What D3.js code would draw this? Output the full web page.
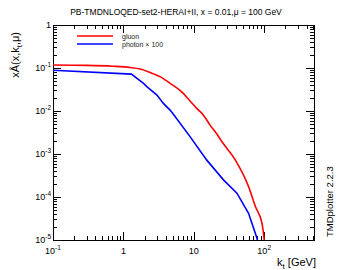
<!DOCTYPE html>
<html>
<head>
<meta charset="utf-8">
<script src="https://cdn.jsdelivr.net/npm/d3@7.9.0/dist/d3.min.js"></script>
<style>
  body { margin: 0; background: #fff; }
  svg { display: block; font-family: "Liberation Sans", Arial, sans-serif; }
</style>
</head>
<body>
<div id="chart"></div>
<script>
const gluonKt = [0.1, 0.3, 0.7, 1.24, 1.73, 2.67, 3.3, 4.6, 7.1, 8, 11, 13.8, 17, 21, 25, 39, 60, 75, 93, 100, 102];
const gluonXA = [0.117, 0.115, 0.11, 0.103, 0.095, 0.073, 0.063, 0.044, 0.0257, 0.0205, 0.0115, 0.0079, 0.0047, 0.003, 0.00195, 0.00072, 0.000174, 0.00006, 0.0000245, 0.00001, 0.000007];
const photonKt = [0.1, 1.3, 1.93, 2.15, 3, 3.7, 4.6, 5.1, 8.9, 15.3, 26.4, 41, 60, 79, 85];
const photonXA = [0.089, 0.072, 0.044, 0.037, 0.0235, 0.015, 0.0105, 0.0085, 0.0025, 0.00072, 0.00025, 0.000123, 0.0000417, 0.000011, 0.000006];
const xDecades = [0.1, 1, 10, 100];
const xTickLabels = [["10", "-1"], ["1", ""], ["10", ""], ["10", "2"]];
const yDecades = [1e-5, 1e-4, 1e-3, 1e-2, 1e-1, 1];
const yTickLabels = [["10", "-5"], ["10", "-4"], ["10", "-3"], ["10", "-2"], ["10", "-1"], ["1", ""]];

const width = 349, height = 270;
const plot = { left: 53, right: 314, top: 25, bottom: 240 };

const svg = d3.select("#chart").append("svg")
  .attr("width", width).attr("height", height);

const x = d3.scaleLog().domain([0.1, 510]).range([plot.left, plot.right]);
const y = d3.scaleLog().domain([1e-5, 1]).range([plot.bottom, plot.top]);

svg.append("defs").append("clipPath").attr("id", "clip")
  .append("rect")
  .attr("x", plot.left).attr("y", plot.top)
  .attr("width", plot.right - plot.left).attr("height", plot.bottom - plot.top);

// minor ticks 2..9 per decade
function minorTicks(scale) {
  const [a, b] = scale.domain();
  const out = [];
  for (let p = Math.floor(Math.log10(a)); p <= Math.ceil(Math.log10(b)); p++) {
    for (let m = 1; m < 10; m++) {
      const v = m * Math.pow(10, p);
      if (v >= a * 0.999 && v <= b * 1.001) out.push({ v, major: m === 1 });
    }
  }
  return out;
}

const ticks = svg.append("g").attr("stroke", "#000").attr("stroke-width", 1);
for (const t of minorTicks(x)) {
  const len = t.major ? 8 : 4;
  const px = Math.round(x(t.v)) + 0.5;
  ticks.append("line").attr("x1", px).attr("x2", px)
    .attr("y1", plot.bottom).attr("y2", plot.bottom - len);
  ticks.append("line").attr("x1", px).attr("x2", px)
    .attr("y1", plot.top).attr("y2", plot.top + len);
}
for (const t of minorTicks(y)) {
  const len = t.major ? 8 : 4;
  const py = Math.round(y(t.v)) + 0.5;
  ticks.append("line").attr("y1", py).attr("y2", py)
    .attr("x1", plot.left).attr("x2", plot.left + len);
  ticks.append("line").attr("y1", py).attr("y2", py)
    .attr("x1", plot.right).attr("x2", plot.right - len);
}

svg.append("rect")
  .attr("x", plot.left + 0.5).attr("y", plot.top + 0.5)
  .attr("width", plot.right - plot.left).attr("height", plot.bottom - plot.top)
  .attr("fill", "none").attr("stroke", "#000").attr("stroke-width", 1);

// tick labels
function addPow(sel, [base, exp]) {
  sel.append("tspan").text(base);
  if (exp) sel.append("tspan").attr("dy", -4).attr("font-size", 6.5).text(exp);
}
xDecades.forEach((v, i) => {
  const t = svg.append("text")
    .attr("x", x(v)).attr("y", 254)
    .attr("font-size", 9).attr("text-anchor", "middle");
  addPow(t, xTickLabels[i]);
});
yDecades.forEach((v, i) => {
  const t = svg.append("text")
    .attr("x", plot.left - 2).attr("y", y(v) + 3)
    .attr("font-size", 9).attr("text-anchor", "end");
  addPow(t, yTickLabels[i]);
});

// curves
const curves = svg.append("g").attr("clip-path", "url(#clip)").attr("fill", "none").attr("stroke-width", 1.6);
curves.append("path").datum(gluonKt.map((k, i) => [k, gluonXA[i]]))
  .attr("stroke", "#ff0000")
  .attr("d", d3.line().x(d => x(d[0])).y(d => y(d[1])).curve(d3.curveMonotoneX));
curves.append("path").datum(photonKt.map((k, i) => [k, photonXA[i]]))
  .attr("stroke", "#0000ff")
  .attr("d", d3.line().x(d => x(d[0])).y(d => y(d[1])));

// legend
const legend = [["gluon", "#ff0000"], ["photon \u00d7 100", "#0000ff"]];
legend.forEach(([label, color], i) => {
  const ly = 36 + i * 8;
  svg.append("line").attr("x1", 77).attr("x2", 113).attr("y1", ly).attr("y2", ly)
    .attr("stroke", color).attr("stroke-width", 1.6);
  svg.append("text").attr("x", 122).attr("y", ly + 2.5)
    .attr("font-size", 7).attr("fill", "#222").text(label);
});

// title
svg.append("text").attr("x", 176).attr("y", 15)
  .attr("font-size", 8.5).attr("text-anchor", "middle")
  .text("PB-TMDNLOQED-set2-HERAI+II, x = 0.01,\u03bc = 100 GeV");

// axis titles
const yt = svg.append("text")
  .attr("transform", "translate(19,32) rotate(-90)")
  .attr("font-size", 11).attr("text-anchor", "end");
yt.append("tspan").text("x\u00c2(x,k");
yt.append("tspan").attr("dy", 3).attr("font-size", 8).text("t");
yt.append("tspan").attr("dy", -3).text(",\u03bc)");

const xt = svg.append("text")
  .attr("x", plot.right + 2).attr("y", 266)
  .attr("font-size", 11).attr("text-anchor", "end");
xt.append("tspan").text("k");
xt.append("tspan").attr("dy", 3).attr("font-size", 8).text("t");
xt.append("tspan").attr("dy", -3).text(" [GeV]");

svg.append("text")
  .attr("transform", "translate(332.5,237) rotate(-90)")
  .attr("font-size", 9.5).attr("text-anchor", "start")
  .text("TMDplotter 2.2.3");
</script>
</body>
</html>
